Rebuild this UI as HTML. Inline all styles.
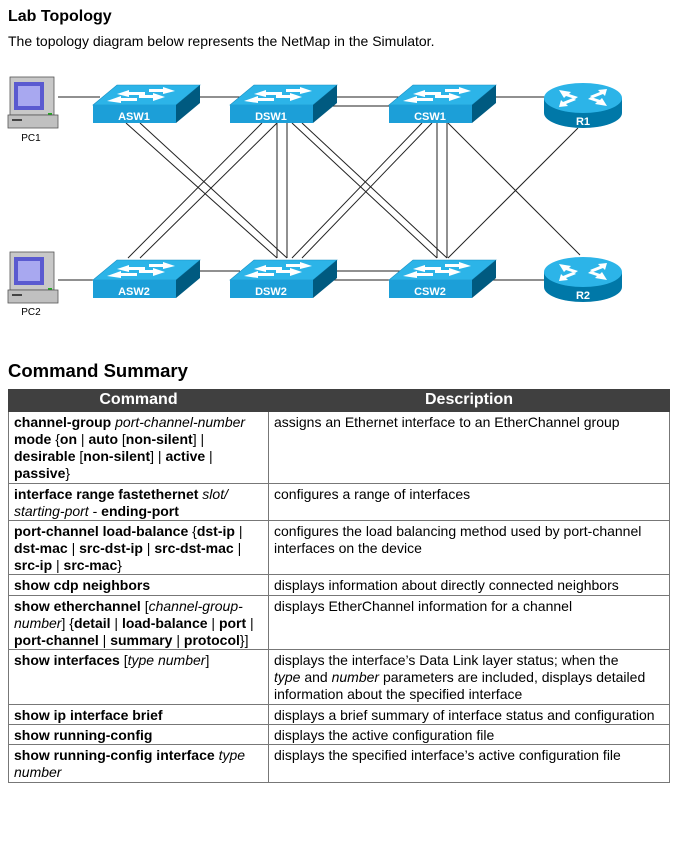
<!DOCTYPE html>
<html><head><meta charset="utf-8"><style>
body{margin:0;background:#fff;font-family:"Liberation Sans",Arial,sans-serif;color:#000;width:689px;height:853px;position:relative;overflow:hidden}
.t1{position:absolute;left:8px;top:8px;font-size:16px;font-weight:bold}
.t2{position:absolute;left:8px;top:33px;font-size:14px}
.t3{position:absolute;left:8px;top:360px;font-size:18.5px;font-weight:bold}
table{position:absolute;left:8px;top:389px;border-collapse:collapse;width:662px;font-size:14px;line-height:17px}
td,th{border:1px solid #777;vertical-align:top;padding:2px 4px 0 5px}
th{background:#404040;color:#fff;font-size:16px;height:19px;padding:1px 5px;border-color:#404040}
b{font-weight:bold}
svg{position:absolute;left:0;top:0}
</style></head><body>
<div class="t1">Lab Topology</div>
<div class="t2">The topology diagram below represents the NetMap in the Simulator.</div>
<svg width="689" height="340" viewBox="0 0 689 340">
<defs>
<g id="sw">
<polygon points="0,20 83,20 107,0 24,0" fill="#2cb4e8" stroke="#1890c4" stroke-width="0.6"/>
<rect x="0" y="20" width="83" height="18" fill="#1c9fd8"/>
<polygon points="83,20 107,0 107,18 83,38" fill="#005a80"/>
<g fill="#fff">
<polygon points="24,9 36,5 36,7 52,7 52,10 36,10 36,12"/>
<polygon points="78,6 66,2 66,4 52,4 52,7 66,7 66,9" transform="translate(4,0)"/>
<polygon points="14,16 28,11 28,13 44,13 44,16 28,16 28,18"/>
<polygon points="72,12 60,8 60,10 46,10 46,13 60,13 60,16"/>
</g>
</g>
<g id="rt">
<path d="M-39,0 L-39,15 A39,15 0 0 0 39,15 L39,0 Z" fill="#0078a8"/>
<ellipse cx="0" cy="0" rx="39" ry="15" fill="#2cb4e8"/>
<g fill="#fff">
<polygon points="-24,-8 -12,-6 -14,-4 -5,-1 -8,1 -17,-2 -19,0"/>
<polygon points="24,8 12,6 14,4 5,1 8,-1 17,2 19,0"/>
<polygon points="24,-9 22,-2 20,-4 10,0 7,-2 17,-6 15,-8"/>
<polygon points="-24,9 -22,2 -20,4 -10,0 -7,2 -17,6 -15,8"/>
</g>
</g>
<g id="pc">
<rect x="2" y="0" width="44" height="38" fill="#c8c8c8" stroke="#555" stroke-width="0.8"/>
<rect x="6" y="5" width="30" height="28" fill="#5a5ad0"/>
<rect x="10" y="9" width="22" height="20" fill="#a8a8f0"/>
<rect x="40" y="36" width="4" height="3" fill="#2a2"/>
<rect x="0" y="38" width="50" height="13" fill="#c0c0c0" stroke="#555" stroke-width="0.8"/>
<rect x="4" y="42" width="10" height="2" fill="#444"/>
</g>
</defs>
<g stroke="#222" stroke-width="1" fill="none">
<line x1="58" y1="97" x2="100" y2="97"/>
<line x1="195" y1="97" x2="240" y2="97"/>
<line x1="330" y1="97" x2="400" y2="97"/>
<line x1="313" y1="106" x2="389" y2="106"/>
<line x1="490" y1="97" x2="548" y2="97"/>
<line x1="58" y1="280" x2="93" y2="280"/>
<line x1="195" y1="271" x2="240" y2="271"/>
<line x1="330" y1="271" x2="400" y2="271"/>
<line x1="313" y1="280" x2="389" y2="280"/>
<line x1="473" y1="280" x2="548" y2="280"/>
<line x1="126" y1="123" x2="277" y2="258"/>
<line x1="140" y1="123" x2="287" y2="258"/>
<line x1="262" y1="123" x2="128" y2="258"/>
<line x1="277" y1="123" x2="140" y2="258"/>
<line x1="277" y1="123" x2="277" y2="258"/>
<line x1="287" y1="123" x2="287" y2="258"/>
<line x1="292" y1="123" x2="437" y2="258"/>
<line x1="302" y1="123" x2="447" y2="258"/>
<line x1="422" y1="123" x2="292" y2="258"/>
<line x1="432" y1="123" x2="302" y2="258"/>
<line x1="437" y1="123" x2="437" y2="258"/>
<line x1="447" y1="123" x2="447" y2="258"/>
<line x1="448" y1="123" x2="580" y2="255"/>
<line x1="578" y1="128" x2="448" y2="258"/>
</g>
<use href="#pc" x="8" y="77"/>
<use href="#pc" x="8" y="252"/>
<use href="#sw" x="93" y="85"/>
<use href="#sw" x="230" y="85"/>
<use href="#sw" x="389" y="85"/>
<use href="#sw" x="93" y="260"/>
<use href="#sw" x="230" y="260"/>
<use href="#sw" x="389" y="260"/>
<use href="#rt" x="583" y="98"/>
<use href="#rt" x="583" y="272"/>
<g fill="#fff" font-weight="bold" font-size="11" text-anchor="middle" font-family="Liberation Sans,Arial,sans-serif">
<text x="134" y="120">ASW1</text><text x="271" y="120">DSW1</text><text x="430" y="120">CSW1</text>
<text x="134" y="295">ASW2</text><text x="271" y="295">DSW2</text><text x="430" y="295">CSW2</text>
<text x="583" y="125">R1</text><text x="583" y="299">R2</text>
</g>
<g fill="#000" font-size="10" text-anchor="middle" font-family="Liberation Sans,Arial,sans-serif">
<text x="31" y="141">PC1</text><text x="31" y="315">PC2</text>
</g>
</svg>
<div class="t3">Command Summary</div>
<table>
<tr><th style="width:249px">Command</th><th>Description</th></tr>
<tr style="height:72px"><td><b>channel-group</b> <i>port-channel-number</i><br><b>mode</b> {<b>on</b> | <b>auto</b> [<b>non-silent</b>] |<br><b>desirable</b> [<b>non-silent</b>] | <b>active</b> |<br><b>passive</b>}</td><td>assigns an Ethernet interface to an EtherChannel group</td></tr>
<tr style="height:37px"><td><b>interface range fastethernet</b> <i>slot/</i><br><i>starting-port</i> - <b>ending-port</b></td><td>configures a range of interfaces</td></tr>
<tr style="height:54px"><td><b>port-channel load-balance</b> {<b>dst-ip</b> |<br><b>dst-mac</b> | <b>src-dst-ip</b> | <b>src-dst-mac</b> |<br><b>src-ip</b> | <b>src-mac</b>}</td><td>configures the load balancing method used by port-channel<br>interfaces on the device</td></tr>
<tr style="height:21px"><td><b>show cdp neighbors</b></td><td>displays information about directly connected neighbors</td></tr>
<tr style="height:54px"><td><b>show etherchannel</b> [<i>channel-group-<br>number</i>] {<b>detail</b> | <b>load-balance</b> | <b>port</b> |<br><b>port-channel</b> | <b>summary</b> | <b>protocol</b>}]</td><td>displays EtherChannel information for a channel</td></tr>
<tr style="height:55px"><td><b>show interfaces</b> [<i>type number</i>]</td><td>displays the interface’s Data Link layer status; when the<br><i>type</i> and <i>number</i> parameters are included, displays detailed<br>information about the specified interface</td></tr>
<tr style="height:20px"><td><b>show ip interface brief</b></td><td style="white-space:nowrap">displays a brief summary of interface status and configuration</td></tr>
<tr style="height:20px"><td><b>show running-config</b></td><td>displays the active configuration file</td></tr>
<tr style="height:38px"><td><b>show running-config interface</b> <i>type</i><br><i>number</i></td><td>displays the specified interface’s active configuration file</td></tr>
</table>
</body></html>
